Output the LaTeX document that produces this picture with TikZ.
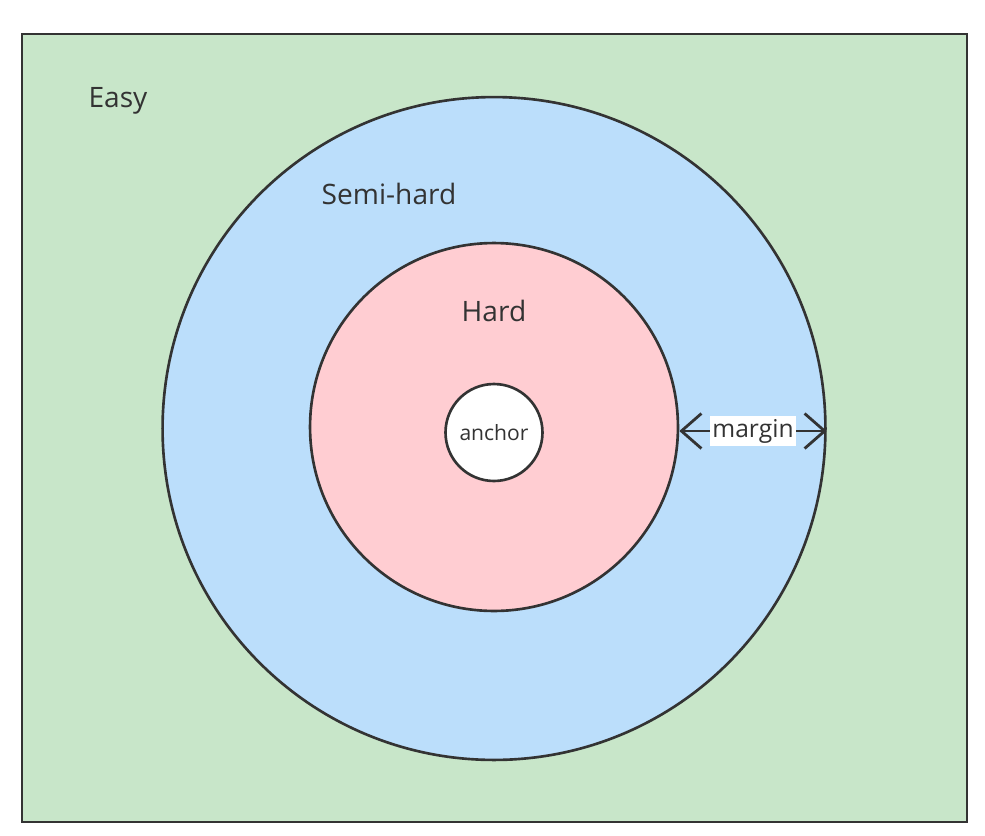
\documentclass[tikz,border=0pt]{standalone}
\usepackage{fontspec}
\setmainfont{Open Sans}
\usepackage{xcolor}
\usepackage{tikz}
\usetikzlibrary{arrows.meta, positioning}
\definecolor{easygreen}{HTML}{C8E6C9}
\definecolor{semiblue}{HTML}{BBDEFB}
\definecolor{hardpink}{HTML}{FFCDD2}
\definecolor{edgedark}{HTML}{333333}
\tikzset{
  region/.style={draw=edgedark, line width=1.5pt},
  zone/.style={circle, region, inner sep=0pt},
  zonelabel/.style={text=edgedark, font=\fontsize{16}{19}\selectfont}
}

\begin{document}
\begin{tikzpicture}[x=0.02cm, y=-0.02cm]
  \useasboundingbox (0,0) rectangle (985,836);
  \node[region, fill=easygreen, minimum width=18.9cm, minimum height=15.76cm, inner sep=0pt] (easy) at (494.5,428) {};
  \node[zone, fill=semiblue, minimum size=13.26cm] (semihard) at (494,428.5) {};
  \node[zone, fill=hardpink, minimum size=7.36cm] (hard) at (494,427) {};
  \node[zone, fill=white, minimum size=1.94cm, text=edgedark, font=\fontsize{12}{14}\selectfont] (anchor) at (494,432.5) {anchor};
  \node[zonelabel] (easylbl) at (118,101) {Easy};
  \node[zonelabel] (semilbl) at (389,194) {Semi-hard};
  \node[zonelabel] (hardlbl) at (494,311) {Hard};
  \draw[edgedark, line width=1.6pt, {Straight Barb[length=0.4cm, width=0.7cm]}-{Straight Barb[length=0.4cm, width=0.7cm]}] (hard.east |- 0,431) -- node[fill=white, inner sep=1.5pt, text=edgedark, font=\fontsize{14}{17}\selectfont] (marginlbl) {margin} (semihard.east |- 0,431);
\end{tikzpicture}
\end{document}
